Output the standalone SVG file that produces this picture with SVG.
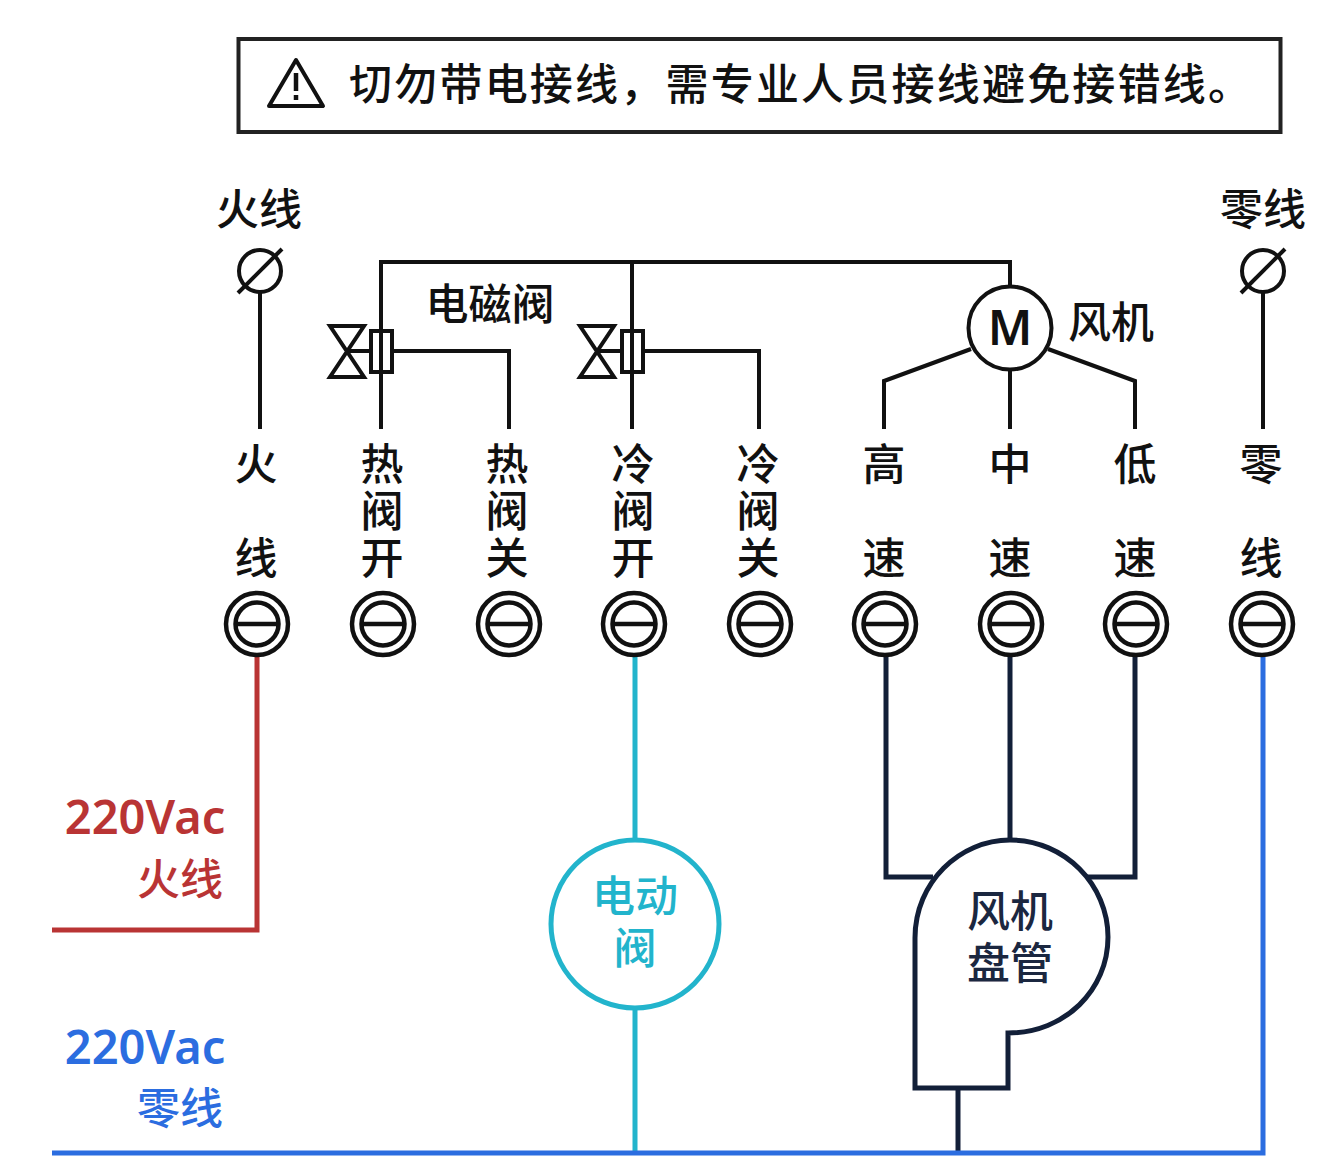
<svg xmlns="http://www.w3.org/2000/svg" width="1338" height="1162" viewBox="0 0 1338 1162">
<defs>
<style>
text{font-family:"Noto Sans CJK SC","Noto Sans",sans-serif;text-anchor:middle;font-weight:500}
.k{fill:none;stroke:#111;stroke-width:4}
.t{font-size:43px;fill:#111}
.l{font-family:"Noto Sans",sans-serif;font-size:47px;font-weight:600}
.n{fill:none;stroke:#121f38;stroke-width:5}
.r{fill:none;stroke:#b93434;stroke-width:5}
.b{fill:none;stroke:#2b6de0;stroke-width:5}
.c{fill:none;stroke:#22b4cc;stroke-width:5}
</style>
<g id="term"><circle r="31" fill="#fff" stroke="#111" stroke-width="4.5"/><circle r="21.500" fill="none" stroke="#111" stroke-width="4.5"/><path d="M-21 0H21" stroke="#111" stroke-width="4.5"/></g>
<g id="src"><circle r="21" fill="none" stroke="#111" stroke-width="4"/><path d="M-22 22L22-22" stroke="#111" stroke-width="4"/></g>
</defs>
<rect width="1338" height="1162" fill="#fff"/>
<g id="connectors">
<path class="k" d="M260 292V429"/>
<path class="k" d="M381 429V262H1010V290"/>
<path class="k" d="M632 262V429"/>
<path class="k" d="M392 351H509V429"/>
<path class="k" d="M643 351H759V429"/>
<path class="k" d="M884 429V381L971 349"/>
<path class="k" d="M1010 368V429"/>
<path class="k" d="M1135 429V381L1048 349"/>
<path class="k" d="M1263 292V429"/>
<path class="r" d="M257 655V930H52"/>
<path class="c" d="M635 655V840M635 1008V1153"/>
<path class="n" d="M886 655V877H933"/>
<path class="n" d="M1010 655V840"/>
<path class="n" d="M1135 655V877H1087"/>
<path class="n" d="M958 1089V1153"/>
<path class="b" d="M52 1153H1263V655"/>
</g>
<g id="warning"><rect x="238.500" y="39" width="1042" height="93" fill="none" stroke="#222" stroke-width="4"/>
<path d="M296 60L323 106H269Z" fill="none" stroke="#111" stroke-width="4" stroke-linejoin="round"/><path d="M296 73V91M296 95V100" stroke="#111" stroke-width="4.500" fill="none"/>
<text x="349" y="100" font-size="43" fill="#111" style="text-anchor:start" textLength="902">切勿带电接线，需专业人员接线避免接错线。</text></g>
<g id="live-source"><text class="t" x="259" y="225">火线</text><use href="#src" x="260" y="271"/></g>
<g id="neutral-source"><text class="t" x="1263" y="225">零线</text><use href="#src" x="1263" y="271"/></g>
<g id="label-solenoid"><text class="t" x="490" y="320">电磁阀</text></g>
<g id="valve-hot"><path class="k" d="M330 326H364L330 377H364ZM347 351H371"/><rect x="371" y="331" width="21" height="41" class="k"/></g>
<g id="valve-cold"><path class="k" d="M580 326H614L580 377H614ZM597 351H622"/><rect x="622" y="331" width="21" height="41" class="k"/></g>
<g id="motor"><circle cx="1010" cy="328" r="41.500" fill="#fff" stroke="#111" stroke-width="4"/><text x="1010" y="345" font-size="48" fill="#111" style="font-family:'Noto Sans',sans-serif;font-weight:600">M</text><text class="t" x="1111" y="338">风机</text></g>
<g id="t1"><text class="t"><tspan x="256" y="480">火</tspan><tspan x="256" y="574">线</tspan></text><use href="#term" x="257" y="624"/></g>
<g id="t2"><text class="t"><tspan x="382" y="480">热</tspan><tspan x="382" y="527">阀</tspan><tspan x="382" y="574">开</tspan></text><use href="#term" x="383" y="624"/></g>
<g id="t3"><text class="t"><tspan x="507" y="480">热</tspan><tspan x="507" y="527">阀</tspan><tspan x="507" y="574">关</tspan></text><use href="#term" x="509" y="624"/></g>
<g id="t4"><text class="t"><tspan x="633" y="480">冷</tspan><tspan x="633" y="527">阀</tspan><tspan x="633" y="574">开</tspan></text><use href="#term" x="634" y="624"/></g>
<g id="t5"><text class="t"><tspan x="758" y="480">冷</tspan><tspan x="758" y="527">阀</tspan><tspan x="758" y="574">关</tspan></text><use href="#term" x="760" y="624"/></g>
<g id="t6"><text class="t"><tspan x="884" y="480">高</tspan><tspan x="884" y="574">速</tspan></text><use href="#term" x="885" y="624"/></g>
<g id="t7"><text class="t"><tspan x="1010" y="480">中</tspan><tspan x="1010" y="574">速</tspan></text><use href="#term" x="1011" y="624"/></g>
<g id="t8"><text class="t"><tspan x="1135" y="480">低</tspan><tspan x="1135" y="574">速</tspan></text><use href="#term" x="1136" y="624"/></g>
<g id="t9"><text class="t"><tspan x="1261" y="480">零</tspan><tspan x="1261" y="574">线</tspan></text><use href="#term" x="1262" y="624"/></g>
<g id="live-label" fill="#b93434"><text class="l" x="145" y="834">220Vac</text><text x="180" y="895" font-size="43">火线</text></g>
<g id="neutral-label" fill="#2b6de0"><text class="l" x="145" y="1064">220Vac</text><text x="180" y="1124" font-size="43">零线</text></g>
<g id="motorized-valve"><circle cx="635" cy="924" r="84" fill="#fff" stroke="#22b4cc" stroke-width="5"/><text x="635" y="912" font-size="43" fill="#22b4cc">电动</text><text x="635" y="964" font-size="43" fill="#22b4cc">阀</text></g>
<g id="fan-coil"><path class="n" fill="#fff" d="M915 1088V938C915 882 960 840 1010 840C1065 840 1108 885 1108 937C1108 990 1065 1033 1008 1033V1088Z"/><text x="1010" y="927" font-size="43" fill="#1b2740">风机</text><text x="1010" y="979" font-size="43" fill="#1b2740">盘管</text></g>
</svg>
